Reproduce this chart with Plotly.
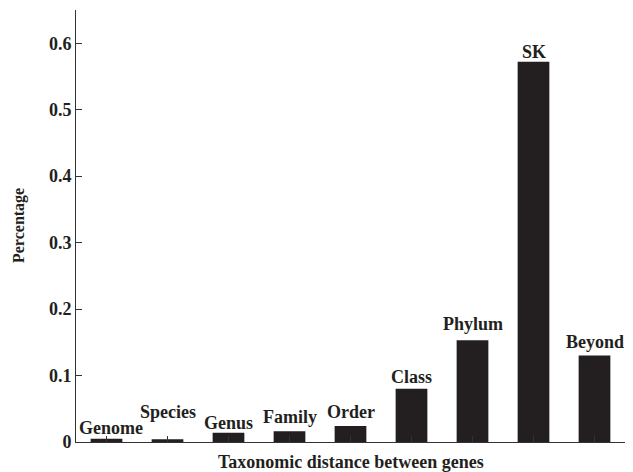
import plotly.graph_objects as go

# Share of gene pairs by taxonomic distance
categories = ["Genome", "Species", "Genus", "Family", "Order",
              "Class", "Phylum", "SK", "Beyond"]
percentages = [0.005, 0.004, 0.014, 0.016, 0.024, 0.080, 0.153, 0.572, 0.130]
y_ticks = [0, 0.1, 0.2, 0.3, 0.4, 0.5, 0.6]
y_tick_text = ["0", "0.1", "0.2", "0.3", "0.4", "0.5", "0.6"]
x_title = "Taxonomic distance between genes"
y_title = "Percentage"

# label placement above each bar (pixel offsets)
label_dy = [11, 27, 10, 14, 14, 12, 16, 10, 14]
label_dx = [4, 0, 0, 0, 0, 0, 0, 0, 0]

FONT = "Liberation Serif"
INK = "#231f20"
AXIS = "#333333"

fig = go.Figure()
fig.add_trace(go.Bar(
    x=categories,
    y=percentages,
    marker=dict(color=INK, line=dict(width=0)),
    width=0.52,
    showlegend=False,
))

for cat, val, dy, dx in zip(categories, percentages, label_dy, label_dx):
    fig.add_annotation(
        x=cat, y=val, text=f"<b>{cat}</b>",
        showarrow=False, yanchor="middle", xanchor="center",
        yshift=dy, xshift=dx,
        font=dict(family=FONT, size=18, color=INK),
    )

# axis titles
fig.add_annotation(
    xref="paper", yref="paper", x=0.5, y=0,
    text=f"<b>{x_title}</b>", showarrow=False,
    xanchor="center", yanchor="middle", yshift=-20,
    font=dict(family=FONT, size=18, color=INK),
)
fig.add_annotation(
    xref="paper", yref="paper", x=0, y=0.5,
    text=f"<b>{y_title}</b>", showarrow=False, textangle=-90,
    xanchor="center", yanchor="middle", xshift=-57,
    font=dict(family=FONT, size=16, color=INK),
)

fig.update_layout(
    width=633, height=472,
    margin=dict(l=76, r=8, t=10, b=30, autoexpand=False),
    paper_bgcolor="white", plot_bgcolor="white",
    font=dict(family=FONT, color=INK),
    bargap=0.48,
)

fig.update_xaxes(
    range=[-0.5, 8.5],
    showline=True, linecolor=AXIS, linewidth=1,
    ticks="inside", ticklen=6, tickcolor=AXIS,
    showticklabels=False, showgrid=False, zeroline=False,
)

fig.update_yaxes(
    range=[0, 0.65],
    tickvals=y_ticks, ticktext=[f"<b>{t}</b>" for t in y_tick_text],
    tickfont=dict(family=FONT, size=18, color=INK),
    showline=True, linecolor=AXIS, linewidth=1,
    ticks="inside", ticklen=6, tickcolor=AXIS,
    showgrid=False, zeroline=False,
)

fig.write_html("out.html")
